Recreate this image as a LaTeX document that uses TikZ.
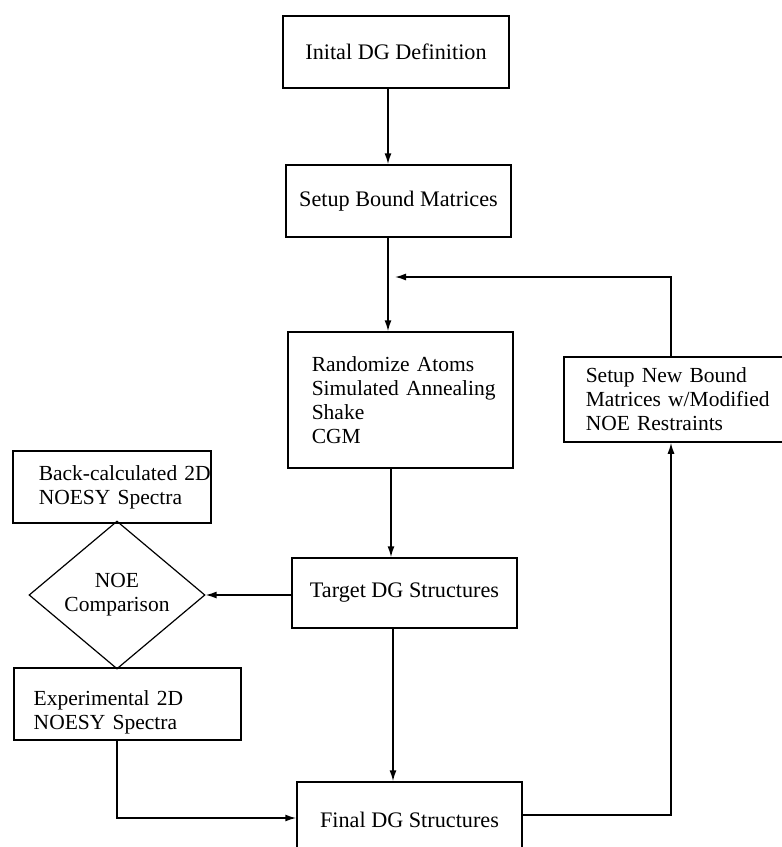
\documentclass[tikz,border=0pt]{standalone}
\usepackage{fontspec}
\setmainfont{Liberation Serif}
\usetikzlibrary{shapes.geometric,arrows.meta}
\begin{document}
\begin{tikzpicture}[x=1pt,y=-1pt,
  txt/.style={font=\fontsize{21.5}{24}\selectfont},
  box/.style={draw, line width=1.5pt, inner ysep=0pt, txt},
  cbox/.style={box, inner xsep=0pt, font=\fontsize{22.2}{24}\selectfont},
  lbox/.style={box, anchor=west, align=left},
  dia/.style={draw, diamond, line width=1.2pt, inner sep=0pt, align=center, txt},
  ln/.style={line width=1.5pt},
  arr/.style={ln, -{Latex[length=11pt,width=7pt]}}]
\useasboundingbox (0,0) rectangle (782,847);
% boxes
\node[cbox, minimum width=226pt, minimum height=72pt] (b1) at (396,52) {Inital DG Definition};
\node[cbox, minimum width=225pt, minimum height=72pt] (b2) at (398.5,201) {Setup Bound Matrices};
\node[lbox, inner xsep=24pt, text width=177pt, minimum height=136pt] (b3) at (287,400)
  {\mbox{Randomize Atoms}\\\mbox{Simulated Annealing}\\\mbox{Shake}\\\mbox{CGM}};
\node[lbox, inner xsep=22pt, text width=200pt, minimum height=85pt] (rb) at (563,399.5)
  {\mbox{Setup New Bound}\\\mbox{Matrices w/Modified}\\\mbox{NOE Restraints}};
\node[lbox, inner xsep=26pt, text width=146pt, minimum height=72pt] (bc) at (12,487)
  {\mbox{Back-calculated 2D}\\\mbox{NOESY Spectra}};
\node[cbox, minimum width=225pt, minimum height=70pt] (tg) at (404.5,593) {Target DG Structures};
\node[dia, minimum width=176pt, minimum height=144pt] (dm) at (117,595) {NOE\\Comparison};
\node[lbox, inner xsep=20pt, text width=187pt, minimum height=72pt] (ex) at (13,704)
  {\mbox{\rule{0pt}{32pt}Experimental 2D}\\\mbox{NOESY Spectra}};
\node[cbox, minimum width=225pt, minimum height=76pt] (fn) at (409.5,820) {Final DG Structures};
% helper coordinates
\coordinate (m1) at (388,0);
\coordinate (m2) at (391,0);
\coordinate (m3) at (393,0);
\coordinate (k1) at (117,818);
\coordinate (k2) at (671,815);
\coordinate (k3) at (671,277);
\coordinate (fb) at (395,277);
% connectors
\draw[arr] (b1.south -| m1) -- (b2.north -| m1);
\draw[arr] (b2.south -| m1) -- (b3.north -| m1);
\draw[arr] (b3.south -| m2) -- (tg.north -| m2);
\draw[arr] (tg.south -| m3) -- (fn.north -| m3);
\draw[arr] (tg.west |- dm.east) -- (dm.east);
\draw[arr] (ex.south -| k1) -- (k1) -- (fn.west |- k1);
\draw[arr] (fn.east |- k2) -- (k2) -- (rb.south -| k2);
\draw[arr] (rb.north -| k3) -- (k3) -- (fb);
\end{tikzpicture}
\end{document}
